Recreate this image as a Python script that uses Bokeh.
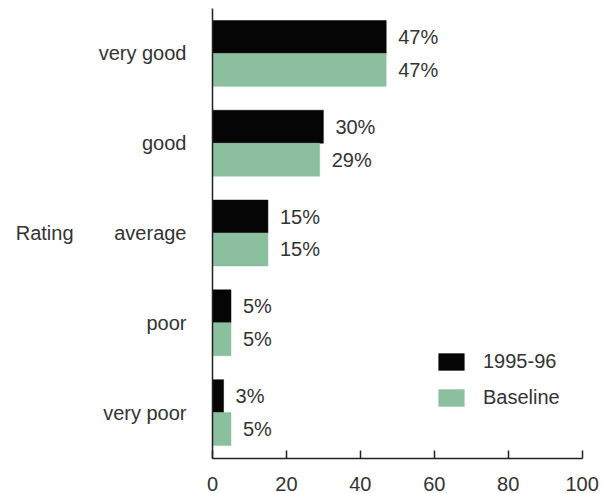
from bokeh.plotting import figure
from bokeh.models import ColumnDataSource, Range1d, FixedTicker, LabelSet, Legend, LinearAxis
from bokeh.core.properties import value
from bokeh.embed import file_html
from bokeh.resources import INLINE

categories = ["very good", "good", "average", "poor", "very poor"]
series_1995 = [47, 30, 15, 5, 3]
series_baseline = [47, 29, 15, 5, 5]
x_ticks = [0, 20, 40, 60, 80, 100]
series_names = ["1995-96", "Baseline"]
axis_title = "Rating"

FONT = "Liberation Sans"
TXT = "#333333"
GREEN = "#8cbf9e"
BLACK = "#050505"

n = len(categories)
centers = [n - i - 0.5 for i in range(n)]
bh = 0.367

src1 = ColumnDataSource(dict(y=[c + bh / 2 for c in centers], v=series_1995,
                             t=[f"{v}%" for v in series_1995]))
src2 = ColumnDataSource(dict(y=[c - bh / 2 for c in centers], v=series_baseline,
                             t=[f"{v}%" for v in series_baseline]))

p = figure(width=604, height=493, output_backend="svg", toolbar_location=None,
           x_range=Range1d(0, 102), y_range=Range1d(-0.011, 5.0),
           min_border_left=212, min_border_right=15, min_border_top=8, min_border_bottom=34)
p.outline_line_color = None
p.grid.visible = False
p.background_fill_color = "white"

r1 = p.hbar(y="y", right="v", left=0, height=bh, source=src1, fill_color=BLACK,
            line_color=BLACK, line_width=0.5)
r2 = p.hbar(y="y", right="v", left=0, height=bh, source=src2, fill_color=GREEN,
            line_color=GREEN, line_width=0.5)

for s in (src1, src2):
    p.add_layout(LabelSet(x="v", y="y", text="t", source=s, x_offset=12,
                          text_baseline="middle", text_font=value(FONT),
                          text_font_size=value("20px"), text_color=value(TXT)))

# x axis
xa = p.xaxis[0]
xa.ticker = FixedTicker(ticks=x_ticks)
xa.bounds = (0, 100)
xa.major_tick_in = 8
xa.major_tick_out = 0
xa.minor_tick_line_color = None
xa.major_tick_line_width = 1.5
xa.axis_line_width = 1.5
xa.axis_line_color = "#222222"
xa.major_tick_line_color = "#222222"
xa.major_label_text_font = FONT
xa.major_label_text_font_size = "20px"
xa.major_label_text_color = TXT
xa.major_label_standoff = 18

# y axis
ya = p.yaxis[0]
ya.ticker = FixedTicker(ticks=centers)
ya.major_label_overrides = {c: lab for c, lab in zip(centers, categories)}
ya.major_tick_line_color = None
ya.minor_tick_line_color = None
ya.axis_line_width = 1.5
ya.axis_line_color = "#222222"
ya.major_label_text_font = FONT
ya.major_label_text_font_size = "20px"
ya.major_label_text_color = TXT
ya.major_label_standoff = 20

# second left axis carrying the "Rating" title horizontally
ra = LinearAxis(ticker=FixedTicker(ticks=[centers[2]]),
                major_label_overrides={centers[2]: axis_title})
ra.axis_line_color = None
ra.major_tick_line_color = None
ra.minor_tick_line_color = None
ra.major_label_text_font = FONT
ra.major_label_text_font_size = "20px"
ra.major_label_text_color = TXT
ra.major_label_standoff = 16
p.add_layout(ra, "left")

legend = Legend(items=[(series_names[0], [r1]), (series_names[1], [r2])],
                location=(223, 49), orientation="vertical",
                glyph_width=32, glyph_height=21, label_height=21, spacing=13,
                label_standoff=16, padding=0, margin=0,
                border_line_alpha=0, background_fill_alpha=0,
                label_text_font=FONT, label_text_font_size="20px",
                label_text_color=TXT)
p.add_layout(legend)

open("out.html", "w").write(file_html(p, INLINE))
